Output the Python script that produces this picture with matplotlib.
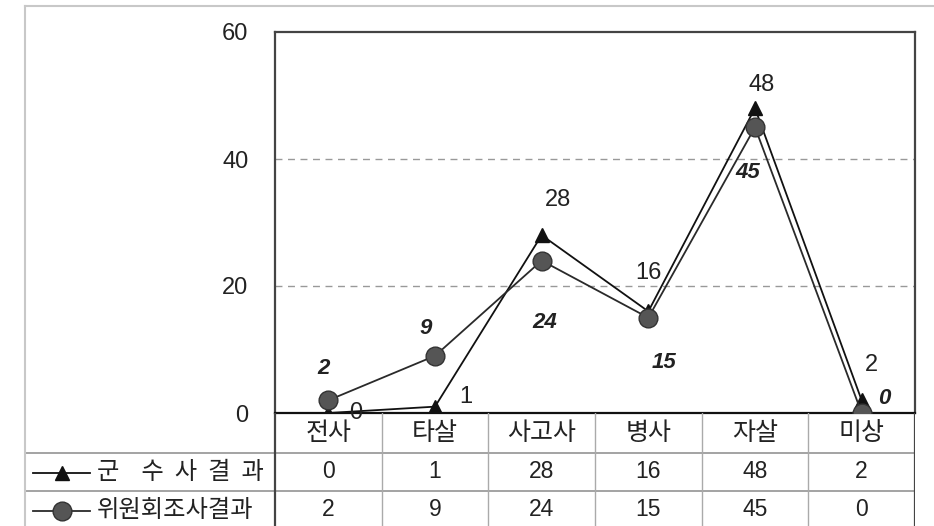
import matplotlib
matplotlib.use("Agg")
import matplotlib.pyplot as plt
from matplotlib.lines import Line2D

# data
categories = ["전사", "타살", "사고사", "병사", "자살", "미상"]
army = [0, 1, 28, 16, 48, 2]
committee = [2, 9, 24, 15, 45, 0]
army_name = "군    수  사  결  과"
committee_name = "위원회조사결과"
yticks = [0, 20, 40, 60]

# label offsets in pixels (dx, dy)
army_off = [(27, 0), (31, 10), (16, 35), (0, 38), (7, 23), (10, 35)]
comm_off = [(-5, 32), (-9, 27), (3, -62), (16, -45), (-7, -45), (23, 15)]

num_font = "Liberation Sans"
plt.rcParams["font.family"] = ["Noto Sans CJK KR", "DejaVu Sans"]

W, H = 934, 526
fig = plt.figure(figsize=(W / 100, H / 100), dpi=100)

def fx(px):
    return px / W

def fy(py):
    return 1 - py / H

# outer light frame
fig.add_artist(Line2D([fx(25), fx(934)], [fy(6), fy(6)], color="#c8c8c8", lw=1.5))
fig.add_artist(Line2D([fx(25), fx(25)], [fy(6), fy(526)], color="#c8c8c8", lw=1.5))

left, right, top, bottom = 275, 915, 32, 413
ax = fig.add_axes([fx(left), fy(bottom), fx(right - left), (bottom - top) / H])
x = list(range(len(categories)))

ax.plot(x, army, color="#111111", lw=1.3, marker="^", ms=10,
        mfc="#111111", mec="#111111", zorder=3)
ax.plot(x, committee, color="#2a2a2a", lw=1.3, marker="o", ms=13.5,
        mfc="#555555", mec="#333333", zorder=4)

for i, v in enumerate(army):
    ax.annotate(str(v), (i, v), xytext=army_off[i], textcoords="offset pixels",
                ha="center", va="center", fontsize=17, family=num_font,
                color="#222222", annotation_clip=False)
for i, v in enumerate(committee):
    ax.annotate(str(v), (i, v), xytext=comm_off[i], textcoords="offset pixels",
                ha="center", va="center", fontsize=16, family=num_font,
                style="italic", weight="bold", color="#222222",
                annotation_clip=False)

ax.set_xlim(-0.5, len(categories) - 0.5)
ax.set_ylim(0, 60)
ax.set_yticks(yticks)
ax.set_yticklabels([str(t) for t in yticks], family=num_font, fontsize=17,
                   color="#222222")
ax.tick_params(axis="y", length=0, pad=19)
ax.set_xticks([])
for t in [20, 40]:
    ax.axhline(t, color="#999999", lw=1, ls=(0, (5, 4)), zorder=1)
for s in ax.spines.values():
    s.set_color("#444444")
    s.set_linewidth(1.6)
ax.spines["bottom"].set_color("#111111")

# data table under the chart
ppu = (right - left) / len(categories)
tleft = -0.5 - (left - 25) / ppu
tax = fig.add_axes([fx(25), 0, fx(right - 25), (H - bottom) / H])
tax.set_xlim(tleft, len(categories) - 0.5)
tax.set_ylim(H - bottom, 0)
tax.axis("off")

row_lines = [40, 78]
for ry in row_lines:
    tax.plot([tleft, len(categories) - 0.5], [ry, ry], color="#8a8a8a", lw=1.1)
for k in range(len(categories) + 1):
    edge = k in (0, len(categories))
    tax.plot([k - 0.5, k - 0.5], [0, H - bottom],
             color="#444444" if edge else "#aaaaaa", lw=1.6 if edge else 1)

for i, c in enumerate(categories):
    tax.text(i, 20, c, ha="center", va="center", fontsize=18, color="#222222")
for i, v in enumerate(army):
    tax.text(i, 58, str(v), ha="center", va="center", fontsize=16.5,
             family=num_font, color="#222222")
for i, v in enumerate(committee):
    tax.text(i, 96, str(v), ha="center", va="center", fontsize=16.5,
             family=num_font, color="#222222")

# legend keys in the first column
lx0 = tleft + (33 - 25) / ppu
lx1 = tleft + (90 - 25) / ppu
tx = tleft + (97 - 25) / ppu
tax.plot([lx0, lx1], [60, 60], color="#111111", lw=1.3)
tax.plot([(lx0 + lx1) / 2], [60], marker="^", ms=10, color="#111111")
tax.plot([lx0, lx1], [98, 98], color="#2a2a2a", lw=1.3)
tax.plot([(lx0 + lx1) / 2], [98], marker="o", ms=13.5, mfc="#555555", mec="#333333")
tax.text(tx, 59, army_name, ha="left", va="center", fontsize=17.5, color="#222222")
tax.text(tx, 97, committee_name, ha="left", va="center", fontsize=17.5,
         color="#222222")

fig.savefig("out.png", dpi=100)
